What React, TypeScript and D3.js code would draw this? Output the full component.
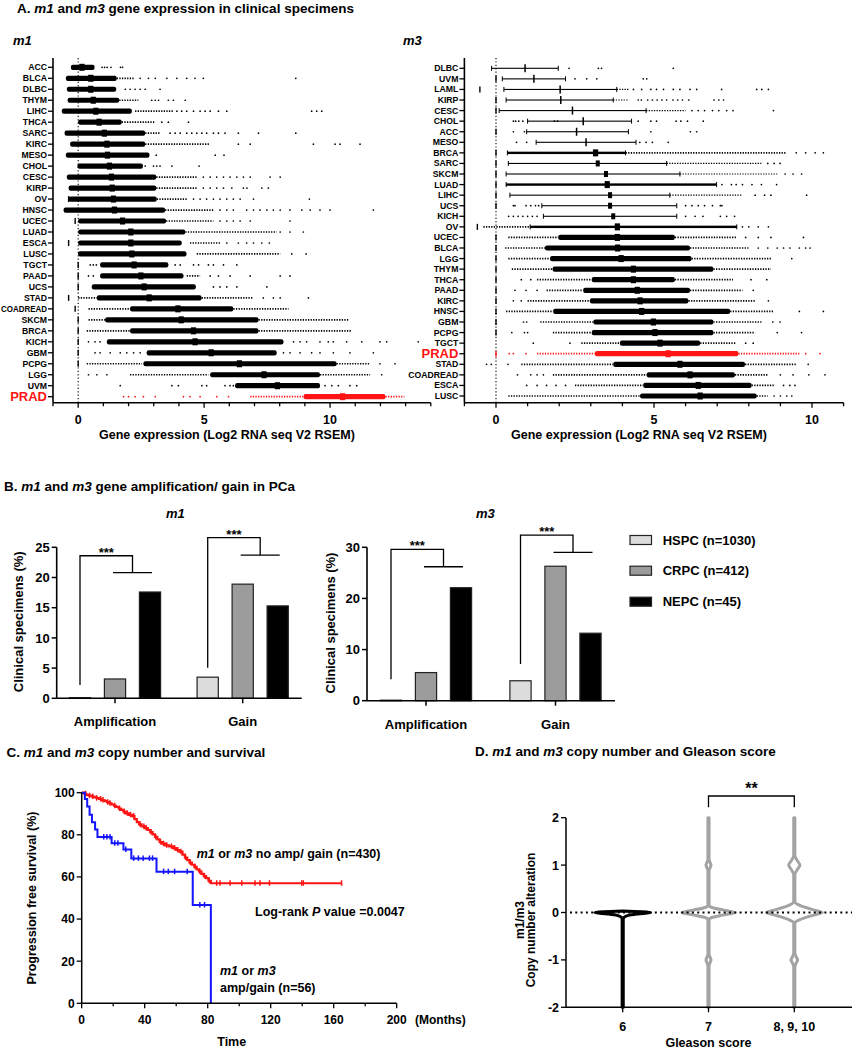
import React from "react";
import * as d3 from "d3";

const FONT = "'Liberation Sans', Arial, Helvetica, sans-serif";
const RED = "#ff1414";
const BLUE = "#1414ff";

// ---------------- Panel A data (values in Log2 RSEM) ----------------
const m1Data = [
  { n: "ACC", dots: [0.95, 1.05, 1.15, 1.3, 1.68, 1.76], band: [-0.29, 0.65], med: 0.15 },
  { n: "BLCA", dots: [2.46, 2.79, 3.06, 3.52, 3.92, 4.31, 4.64, 4.97, 8.64], band: [-0.49, 1.53], med: 0.5, hi: [1.53, 2.2] },
  { n: "DLBC", dots: [1.87, 2.06, 2.26, 2.46, 2.66, 3.25], band: [-0.45, 1.51], med: 0.5 },
  { n: "THYM", dots: [2.92, 3.06, 3.19, 3.58, 3.78, 4.25], band: [-0.42, 1.63], med: 0.6, hi: [1.63, 2.39] },
  { n: "LIHC", dots: [3.92, 4.11, 4.31, 4.58, 4.84, 5.04, 5.24, 5.57, 5.9, 9.27, 9.47, 9.67], band: [-0.65, 2.13], med: 0.7, hi: [2.26, 3.78] },
  { n: "THCA", dots: [3.32, 3.58, 4.38], band: [0, 1.73], med: 0.83, hi: [1.73, 3.06] },
  { n: "SARC", dots: [3.65, 3.85, 4.05, 4.31, 4.51, 4.71, 4.91, 5.1, 5.37, 5.57, 5.83, 6.36, 7.16, 8.64], band: [-0.54, 2.66], med: 1.04, hi: [2.66, 3.25] },
  { n: "KIRC", dots: [6.36, 6.83, 9.34, 10.2, 10.4, 11.19], band: [-0.32, 2.66], med: 1.14, hi: [2.66, 5.24] },
  { n: "MESO", dots: [3.1, 5.44, 5.79], band: [-0.49, 2.83], med: 1.16 },
  { n: "CHOL", dots: [2.66, 2.99, 3.12, 3.25, 3.72, 4.8], band: [-0.03, 2.57], med: 1.24 },
  { n: "CESC", dots: [4.97, 5.24, 5.5, 5.77, 6.03, 6.3, 6.56, 6.83, 7.62, 8.02], band: [-0.45, 3.1], med: 1.32, hi: [3.1, 4.7] },
  { n: "KIRP", dots: [4.97, 5.24, 5.5, 5.77, 6.1, 6.56, 6.7, 7.29, 7.55], band: [-0.38, 3.1], med: 1.35, hi: [3.1, 4.7] },
  { n: "OV", tick: -0.38, dots: [4.58, 4.84, 5.1, 5.37, 5.63, 5.9, 6.16, 6.43, 6.96, 9.18], band: [-0.38, 3.12], med: 1.4, hi: [3.12, 4.31] },
  { n: "HNSC", dots: [5.63, 5.9, 6.16, 6.69, 6.96, 7.22, 7.49, 7.75, 8.02, 8.41, 8.88, 9.21, 9.6, 10.0, 11.72], band: [-0.58, 3.45], med: 1.44, hi: [3.45, 5.37] },
  { n: "UCEC", tick: -0.12, dots: [5.63, 5.9, 6.16, 6.43, 6.83, 8.41], band: [0, 3.49], med: 1.76, hi: [3.49, 5.37] },
  { n: "LUAD", dots: [8.02, 8.41, 8.94], band: [0, 4.25], med: 2.09, hi: [4.25, 7.88] },
  { n: "ESCA", tick: -0.38, dots: [5.9, 6.36, 6.69, 6.96, 7.29, 7.59], band: [0, 4.11], med: 2.09, hi: [4.44, 5.63] },
  { n: "LUSC", dots: [8.48, 9.05], band: [0, 4.3], med: 2.13, hi: [4.71, 8.02] },
  { n: "TGCT", tick: 0, dots: [0.48, 0.6, 0.72, 3.85, 4.05, 4.58, 4.78, 5.17, 5.37, 5.77, 6.3], band: [0.87, 3.58], med: 2.22 },
  { n: "PAAD", tick: 0, dots: [0.41, 0.6, 5.24, 5.57, 6.03, 6.83, 8.02, 8.41], band: [0.87, 4.18], med: 2.49, hi: [4.31, 4.84] },
  { n: "UCS", tick: 0, dots: [5.37, 5.63, 5.9, 6.3, 7.49], band: [0.54, 4.67], med: 2.62 },
  { n: "STAD", tick: -0.38, dots: [7.35, 7.75, 8.02, 9.14], band: [0.74, 4.9], med: 2.82, lo: [0, 0.74], hi: [4.9, 6.96] },
  { n: "COADREAD", tick: -0.12, dots: [], band: [2.06, 6.16], med: 3.96, lo: [0.41, 2.06], hi: [6.16, 8.35] },
  { n: "SKCM", tick: 0, dots: [], band: [1.07, 7.16], med: 4.09, lo: [0.41, 1.07], hi: [7.16, 10.73] },
  { n: "BRCA", tick: 0, dots: [], band: [2.06, 7.16], med: 4.58, lo: [0.34, 2.06], hi: [7.16, 10.86] },
  { n: "KICH", tick: 0, dots: [0.41, 0.67, 0.87, 8.55, 8.81, 9.07, 9.6, 9.93, 10.13, 10.66, 11.26, 11.98, 12.25, 13.5], band: [1.14, 8.15], med: 4.64 },
  { n: "GBM", tick: 0, dots: [0.67, 0.87, 1.27, 1.67, 1.93, 2.2, 2.46, 8.15, 8.41, 8.81, 9.27, 9.6, 10.13, 10.79, 11.72], band: [2.72, 7.88], med: 5.28 },
  { n: "PCPG", tick: 0, dots: [11.98, 12.58], band: [2.59, 10.26], med: 6.4, lo: [0.34, 2.53], hi: [10.26, 11.59] },
  { n: "LGG", dots: [0.41, 0.74, 1.14, 12.05], band: [5.24, 9.6], med: 7.38, lo: [2.06, 5.17], hi: [9.6, 11.59] },
  { n: "UVM", dots: [1.67, 3.72, 3.98, 4.91, 5.1, 5.83, 6.03, 6.16, 9.8, 10.07, 10.33, 10.79, 11.06], band: [6.23, 9.6], med: 7.91 },
  { n: "PRAD", dots: [1.8, 2.0, 2.26, 2.59, 3.06, 4.18, 4.44, 4.84, 5.5, 5.97], band: [8.95, 12.2], med: 10.5, lo: [6.83, 8.94], hi: [12.2, 12.95] },
];

const m3Data = [
  { n: "DLBC", kind: "thin", dots: [2.31, 3.24, 3.34, 5.61], band: [-0.14, 1.97], med: 0.92 },
  { n: "UVM", kind: "thin", tick: 0, dots: [2.5, 2.87, 3.19, 4.66, 4.77], band: [0.2, 2.2], med: 1.2 },
  { n: "LAML", kind: "thin", tick: -0.51, dots: [4.35, 4.61, 4.9, 5.08, 5.3, 5.61, 5.82, 6.14, 6.35, 7.14, 8.25, 8.41, 8.62], band: [0.25, 3.82], med: 2.03, hi: [3.82, 4.2] },
  { n: "KIRP", kind: "thin", tick: 0, dots: [4.5, 4.6, 4.8, 4.95, 5.1, 5.25, 5.4, 5.6, 5.75, 5.9, 6.1, 6.9, 7.05, 7.2], band: [0.32, 3.71], med: 2.05, hi: [3.71, 4.2] },
  { n: "CESC", kind: "thin", tick: 0, dots: [6.2, 6.4, 6.6, 6.85, 7.05, 7.3, 7.5, 8.78], band: [0.1, 4.75], med: 2.42, hi: [4.75, 6.0] },
  { n: "CHOL", kind: "thin", dots: [0.55, 0.62, 0.72, 0.85, 1.85, 1.95, 4.5, 4.9, 5.08, 5.7, 5.85, 6.06, 6.56], band: [1.0, 4.29], med: 2.76 },
  { n: "ACC", kind: "thin", tick: 0, dots: [0.55, 0.9, 4.9, 6.15, 6.35], band: [0.97, 4.19], med: 2.55 },
  { n: "MESO", kind: "thin", dots: [0.65, 0.97, 4.55, 4.75, 4.95, 5.45], band: [1.27, 4.43], med: 2.85 },
  { n: "BRCA", kind: "mid", tick: 0, dots: [9.5, 9.8, 10.1, 10.36], band: [0.36, 4.1], med: 3.15, hi: [4.1, 9.2] },
  { n: "SARC", kind: "thinsq", tick: 0, dots: [8.6, 8.8, 8.99], band: [0.39, 5.4], med: 3.22, hi: [5.4, 8.4] },
  { n: "SKCM", kind: "thinsq", tick: 0, dots: [9.15, 9.4, 9.67], band: [0.32, 5.82], med: 3.48, hi: [5.82, 8.9] },
  { n: "LUAD", kind: "mid", tick: 0, dots: [7.15, 7.45, 7.6, 7.8, 8.1, 8.4, 8.88], band: [0.32, 6.98], med: 3.52 },
  { n: "LIHC", kind: "thinsq", tick: 0, dots: [8.2, 8.5, 8.7, 9.83], band: [0.44, 5.5], med: 3.61, hi: [5.5, 7.8] },
  { n: "UCS", kind: "thinsq", tick: 0, dots: [0.55, 0.6, 0.95, 1.1, 1.25, 1.35, 6.0, 6.2, 6.4, 6.6, 6.85, 7.1, 7.15], band: [1.45, 5.72], med: 3.61 },
  { n: "KICH", kind: "thinsq", dots: [0.4, 0.55, 0.7, 0.85, 1.0, 1.15, 1.3, 6.0, 6.3, 6.55, 7.1, 7.3, 7.55], band: [1.5, 5.72], med: 3.71 },
  { n: "OV", kind: "mid", tick: -0.59, dots: [7.8, 8.0, 8.3, 8.62], band: [1.08, 7.62], med: 3.84, lo: [-0.4, 1.08] },
  { n: "UCEC", kind: "thick", tick: 0, dots: [7.9, 8.3, 8.7, 9.73], band: [1.97, 5.66], med: 3.84, lo: [0.39, 1.97], hi: [5.66, 7.6] },
  { n: "BLCA", kind: "thick", tick: 0, dots: [8.3, 8.6, 8.9, 9.1, 9.3, 9.6, 9.8, 9.94], band: [1.55, 6.14], med: 3.85, lo: [0.29, 1.55], hi: [6.14, 8.0] },
  { n: "LGG", kind: "thick", tick: 0, dots: [9.36], band: [1.71, 6.19], med: 3.96, lo: [0.39, 1.71], hi: [6.19, 8.7] },
  { n: "THYM", kind: "thick", tick: 0, dots: [], band: [1.79, 6.88], med: 4.35, lo: [0.5, 1.79], hi: [6.88, 8.7] },
  { n: "THCA", kind: "thick", tick: 0, dots: [0.8, 1.1, 8.07, 8.57], band: [3.03, 5.66], med: 4.35, lo: [1.3, 3.03], hi: [5.66, 7.5] },
  { n: "PAAD", kind: "thick", tick: 0, dots: [0.6, 0.95, 1.3, 8.14], band: [2.76, 6.14], med: 4.47, lo: [1.6, 2.76], hi: [6.14, 7.8] },
  { n: "KIRC", kind: "thick", tick: 0, dots: [0.55, 0.8, 8.62], band: [2.97, 6.09], med: 4.56, lo: [1.0, 2.97], hi: [6.09, 8.2] },
  { n: "HNSC", kind: "thick", tick: 0, dots: [9.6, 10.36], band: [1.81, 7.41], med: 4.61, lo: [0.32, 1.81], hi: [7.41, 8.8] },
  { n: "GBM", kind: "thick", tick: 0, dots: [0.87, 0.97, 8.76, 8.99], band: [3.08, 6.88], med: 4.98, lo: [1.4, 3.08], hi: [6.88, 8.4] },
  { n: "PCPG", kind: "thick", tick: 0, dots: [0.5, 0.9, 1.0, 8.9, 9.67], band: [3.03, 6.88], med: 5.03, lo: [1.8, 3.03], hi: [6.88, 8.2] },
  { n: "TGCT", kind: "thick", dots: [1.18, 2.34, 7.9, 8.14], band: [3.92, 6.46], med: 5.19, lo: [2.7, 3.92], hi: [6.46, 7.6] },
  { n: "PRAD", kind: "thick", tick: 0, dots: [0.42, 0.55, 0.95, 9.8, 10.25], band: [3.13, 7.67], med: 5.45, lo: [1.3, 3.13], hi: [7.67, 9.6] },
  { n: "STAD", kind: "thick", dots: [-0.3, -0.15, 0.38, 9.88], band: [3.71, 7.88], med: 5.82, lo: [0.8, 3.71], hi: [7.88, 9.5] },
  { n: "COADREAD", kind: "thick", dots: [0.68, 1.1, 1.3, 1.5, 9.0, 9.4, 9.9, 10.41], band: [4.77, 7.56], med: 6.14, lo: [1.8, 4.77], hi: [7.56, 8.6] },
  { n: "ESCA", kind: "thick", dots: [0.97, 1.3, 1.6, 1.9, 2.2, 9.1, 9.3, 9.46], band: [4.66, 8.09], med: 6.4, lo: [2.5, 4.66], hi: [8.09, 8.8] },
  { n: "LUSC", kind: "thick", dots: [8.8, 9.0, 9.2, 9.36], band: [4.56, 8.25], med: 6.46, lo: [0.39, 4.56], hi: [8.25, 8.6] },
];

// ---------------- Panel B data (% of clinical specimens) ----------------
const bGroups = ["Amplification", "Gain"];
const bSeries = ["HSPC (n=1030)", "CRPC (n=412)", "NEPC (n=45)"];
const bColors = ["#dcdcdc", "#9c9c9c", "#000000"];
const m1Amp = [0.1, 3.2, 17.6];
const m1Gain = [3.5, 18.9, 15.3];
const m3Amp = [0.1, 5.5, 22.1];
const m3Gain = [3.9, 26.3, 13.2];
const m1Yticks = [0, 5, 10, 15, 20, 25];
const m3Yticks = [0, 10, 20, 30];
// bracket levels: [start, top, drop]
const m1Brackets = [[2.2, 23.6, 20.8], [5.07, 26.6, 23.7]];
const m3Brackets = [[4.2, 29.6, 26.2], [7.2, 32.4, 29.0]];

// ---------------- Panel C data (Kaplan-Meier) ----------------
const noAmpTimes = [0, 1.5, 3, 4.5, 6.5, 8, 9.5, 11, 12.5, 14.5, 16, 17.5, 19, 20.5, 22, 23.5, 25, 26.5, 28, 30, 32, 33.5, 35, 36.5, 38, 40, 42, 43.5, 45, 46.5, 48, 49.5, 51, 53, 55.5, 58, 60, 62, 64, 65.5, 67, 68.5, 70, 71.5, 73, 74.5, 76, 77.5, 79, 80.5, 82, 165];
const noAmpSurv = [100, 99.5, 99, 98.6, 98.2, 97.8, 97.4, 97, 96.5, 96, 95.5, 95, 94.4, 93.8, 93.2, 92.5, 91.8, 91, 90.2, 89.5, 88.9, 87.5, 86, 85, 84, 83.2, 82.3, 81.3, 80.2, 79, 77.8, 76.6, 75.8, 75, 74.5, 73.7, 72.8, 72, 70.6, 69.2, 68, 66.8, 65.8, 64.8, 63.6, 62.6, 61.5, 60.4, 59.4, 58.2, 57, 57];
const noAmpCensor = [2.5, 5, 7, 9.5, 12, 13.5, 16.5, 18, 21, 24, 27, 29, 31, 33, 37, 39.5, 41, 44, 47, 50, 52, 54, 57, 59, 61, 63, 66, 69, 72, 75, 78, 81, 85.7, 87.8, 94.2, 101.6, 110, 113.2, 119.2, 139.7, 140.7, 165];
const ampTimes = [0, 2, 3.5, 5, 6.5, 8.5, 10, 19, 26.5, 31.5, 47.5, 70.5, 82];
const ampSurv = [100, 97, 93.5, 89.5, 86, 82.5, 79, 76, 73, 68.8, 62.5, 46.7, 0];
const ampCensor = [14, 16, 18, 21, 23, 28, 33, 36, 39, 43, 45, 52, 55, 59, 67, 75, 78];
const cXticks = [0, 40, 80, 120, 160, 200];
const cYticks = [0, 20, 40, 60, 80, 100];

// ---------------- Panel D data (violins) ----------------
const dGroups = ["6", "7", "8, 9, 10"];
const dColors = ["#000000", "#a3a3a3", "#a3a3a3"];
// [copy number value, relative density]
const violin6 = [[0.03, 0], [0.0, 1], [-0.03, 0.55], [-0.06, 0.2], [-0.1, 0.05], [-0.14, 0.02], [-2, 0.02]];
const violin7 = [[2, 0.02], [1.12, 0.02], [1.05, 0.06], [1.0, 0.09], [0.95, 0.06], [0.88, 0.02], [0.15, 0.02], [0.1, 0.15], [0.05, 0.55], [0, 0.95], [-0.05, 0.55], [-0.1, 0.15], [-0.15, 0.02], [-0.88, 0.02], [-0.95, 0.06], [-1.0, 0.09], [-1.05, 0.06], [-1.12, 0.02], [-2, 0.02]];
const violin8 = [[2, 0.02], [1.2, 0.02], [1.1, 0.1], [1.0, 0.2], [0.9, 0.1], [0.8, 0.02], [0.22, 0.02], [0.15, 0.2], [0.05, 0.72], [0, 1], [-0.05, 0.72], [-0.15, 0.2], [-0.22, 0.02], [-0.85, 0.02], [-0.95, 0.08], [-1.0, 0.12], [-1.05, 0.08], [-1.15, 0.02], [-2, 0.02]];
const dYticks = [-2, -1, 0, 1, 2];

// ======================================================================
function DotPlot({ rows, x, yTop, yBottom, axisTop, axisY }: any) {
  const y = d3.scalePoint<string>().domain(rows.map((r: any) => r.n)).range([yTop, yBottom]);
  const [x0, x1] = x.range();
  const minor = x.ticks(15);
  const major = x.ticks(3);
  return (
    <g>
      <line x1={x(0)} x2={x(0)} y1={axisTop} y2={axisY} stroke="#000" strokeWidth={1.1} strokeDasharray="1.2 2.2" />
      {rows.map((r: any) => {
        const cy = y(r.n)!;
        const isP = r.n === "PRAD";
        const col = isP ? RED : "#000";
        const kind = r.kind || "thick";
        const thin = kind === "thin" || kind === "thinsq";
        const bh = kind === "thick" ? 5.2 : kind === "mid" ? 2.4 : 1.1;
        const bx0 = x(r.band[0]);
        const bx1 = x(r.band[1]);
        const squeeze = r.n.length > 6 && x0 - 6 < 50;
        return (
          <g key={r.n}>
            <line x1={x0 - 5} x2={x0} y1={cy} y2={cy} stroke="#000" strokeWidth={1.3} />
            <text x={x0 - 6} y={cy} dy={isP ? "0.36em" : "0.35em"} textAnchor="end" fontSize={isP ? 13 : 8.7}
              fontWeight="bold" fill={col}
              {...(squeeze ? { textLength: x0 - 7, lengthAdjust: "spacingAndGlyphs" } : {})}>{r.n}</text>
            {r.tick != null && (
              <line x1={x(r.tick)} x2={x(r.tick)} y1={cy - 3} y2={cy + 3} stroke={col} strokeWidth={1.4} />
            )}
            {r.lo && (
              <line x1={x(r.lo[0])} x2={x(r.lo[1])} y1={cy} y2={cy} stroke={col} strokeWidth={thin ? 1.2 : 1.7} strokeDasharray="1.3 1.3" />
            )}
            {r.hi && (
              <line x1={x(r.hi[0])} x2={x(r.hi[1])} y1={cy} y2={cy} stroke={col} strokeWidth={thin ? 1.2 : 1.7} strokeDasharray="1.3 1.3" />
            )}
            <rect x={bx0} width={bx1 - bx0} y={cy - bh / 2} height={bh} rx={kind === "thick" ? 2 : 0} fill={col} />
            {kind !== "thick" && (
              <g stroke={col} strokeWidth={1}>
                <line x1={bx0} x2={bx0} y1={cy - 2.5} y2={cy + 2.5} />
                <line x1={bx1} x2={bx1} y1={cy - 2.5} y2={cy + 2.5} />
              </g>
            )}
            {kind === "thin" ? (
              <line x1={x(r.med)} x2={x(r.med)} y1={cy - 4} y2={cy + 4} stroke={col} strokeWidth={1.5} />
            ) : kind === "thinsq" ? (
              <rect x={x(r.med) - 2} y={cy - 3} width={4} height={6} fill={col} />
            ) : (
              <rect x={x(r.med) - 2.6} y={cy - 3.5} width={5.2} height={7} fill={col} />
            )}
            {r.dots.map((d: number, i: number) => (
              <circle key={i} cx={x(d)} cy={cy} r={0.85} fill={col} />
            ))}
          </g>
        );
      })}
      {/* axes */}
      <line x1={x0} x2={x0} y1={axisTop} y2={axisY} stroke="#000" strokeWidth={1.6} />
      <line x1={x0} x2={x1} y1={axisY} y2={axisY} stroke="#000" strokeWidth={1.6} />
      {minor.map((t: number) => (
        <line key={"m" + t} x1={x(t)} x2={x(t)} y1={axisY} y2={axisY + (major.includes(t) ? 5 : 3.5)} stroke="#000" strokeWidth={1.3} />
      ))}
      {major.map((t: number) => (
        <text key={"t" + t} x={x(t)} y={axisY + 21} textAnchor="middle" fontSize={12.5} fontWeight="bold">{t}</text>
      ))}
      <text x={(x0 + x1) / 2 - 15} y={axisY + 36} textAnchor="middle" fontSize={12.5} fontWeight="bold">
        Gene expression (Log2 RNA seq V2 RSEM)
      </text>
    </g>
  );
}

function BarPanel({ amp, gain, yMax, yTicks, brackets, title, xRange, groupPos, yRange, titleX, labelX }: any) {
  const y = d3.scaleLinear().domain([0, yMax]).range(yRange);
  const gx = d3.scalePoint<string>().domain(bGroups).range(groupPos);
  const bx = d3.scaleBand<string>().domain(bSeries).range([-52.5, 52.5]).paddingInner(0.394).paddingOuter(0.197);
  const vals = [amp, gain];
  const [ax0, ax1] = xRange;
  const y0 = y(0);
  const center = (g: string, s: string) => gx(g)! + bx(s)! + bx.bandwidth() / 2;
  return (
    <g>
      <text x={titleX} y={yRange[1] - 29} fontSize={13} fontWeight="bold" fontStyle="italic">{title}</text>
      {bGroups.map((g, gi) =>
        bSeries.map((s, si) => (
          <rect key={g + s} x={gx(g)! + bx(s)!} width={bx.bandwidth()} y={y(vals[gi][si])}
            height={y0 - y(vals[gi][si])} fill={bColors[si]} stroke="#222" strokeWidth={1.2} />
        ))
      )}
      {bGroups.map((g, gi) => {
        const [b0, b1, b2] = brackets[gi];
        const lx = center(g, bSeries[0]);
        const cx1 = center(g, bSeries[1]);
        const cx2 = center(g, bSeries[2]);
        const rx = (cx1 + cx2) / 2;
        return (
          <g key={"br" + g} fill="none" stroke="#000" strokeWidth={1.3}>
            <path d={`M${lx},${y(b0)}V${y(b1)}H${rx}V${y(b2)}`} />
            <line x1={cx1 - 2} x2={cx2 + 2} y1={y(b2)} y2={y(b2)} />
            <text x={(lx + rx) / 2} y={y(b1) + 1} textAnchor="middle" fontSize={13} fontWeight="bold" stroke="none" fill="#000">***</text>
          </g>
        );
      })}
      <line x1={ax0} x2={ax0} y1={yRange[1]} y2={y0} stroke="#000" strokeWidth={1.6} />
      <line x1={ax0} x2={ax1} y1={y0} y2={y0} stroke="#000" strokeWidth={1.6} />
      {yTicks.map((t: number) => (
        <g key={t}>
          <line x1={ax0 - 5} x2={ax0} y1={y(t)} y2={y(t)} stroke="#000" strokeWidth={1.5} />
          <text x={ax0 - 7} y={y(t)} dy="0.36em" textAnchor="end" fontSize={13} fontWeight="bold">{t}</text>
        </g>
      ))}
      {bGroups.map((g) => (
        <g key={"x" + g}>
          <line x1={gx(g)} x2={gx(g)} y1={y0} y2={y0 + 5} stroke="#000" strokeWidth={1.5} />
          <text x={gx(g)} y={y0 + 28} textAnchor="middle" fontSize={13} fontWeight="bold">{g}</text>
        </g>
      ))}
      <text transform={`translate(${labelX},${(yRange[0] + yRange[1]) / 2 - 1}) rotate(-90)`} textAnchor="middle"
        fontSize={13} fontWeight="bold">Clinical specimens (%)</text>
    </g>
  );
}

function stepAt(times: number[], surv: number[], t: number) {
  let s = surv[0];
  for (let i = 0; i < times.length; i++) if (times[i] <= t) s = surv[i];
  return s;
}

function KMPanel() {
  const x = d3.scaleLinear().domain([0, 200]).range([81.7, 396.7]);
  const y = d3.scaleLinear().domain([0, 100]).range([1003.3, 792.7]);
  const line = d3.line<[number, number]>().x((d) => x(d[0])).y((d) => y(d[1])).curve(d3.curveStepAfter);
  const red = noAmpTimes.map((t, i) => [t, noAmpSurv[i]] as [number, number]);
  const blue = ampTimes.map((t, i) => [t, ampSurv[i]] as [number, number]);
  const minorX = d3.range(0, 201, 20);
  return (
    <g>
      <path d={line(red)!} fill="none" stroke={RED} strokeWidth={2.2} />
      {noAmpCensor.map((t, i) => {
        const s = stepAt(noAmpTimes, noAmpSurv, t);
        return <line key={i} x1={x(t)} x2={x(t)} y1={y(s) - 3} y2={y(s) + 2.5} stroke={RED} strokeWidth={1.5} />;
      })}
      <path d={line(blue)!} fill="none" stroke={BLUE} strokeWidth={2} />
      {ampCensor.map((t, i) => {
        const s = stepAt(ampTimes, ampSurv, t);
        return <line key={i} x1={x(t)} x2={x(t)} y1={y(s) - 3} y2={y(s) + 2.5} stroke={BLUE} strokeWidth={1.5} />;
      })}
      <line x1={x(0)} x2={x(0)} y1={y(100)} y2={y(0)} stroke="#000" strokeWidth={1.5} />
      <line x1={x(0)} x2={x(200)} y1={y(0)} y2={y(0)} stroke="#000" strokeWidth={1.5} />
      {minorX.map((t) => (
        <line key={t} x1={x(t)} x2={x(t)} y1={y(0)} y2={y(0) + (cXticks.includes(t) ? 5 : 3)} stroke="#000" strokeWidth={1.3} />
      ))}
      {cXticks.map((t) => (
        <text key={t} x={x(t)} y={y(0) + 20.5} textAnchor="middle" fontSize={12} fontWeight="bold">{t}</text>
      ))}
      {cYticks.map((t) => (
        <g key={t}>
          <line x1={x(0) - 5} x2={x(0)} y1={y(t)} y2={y(t)} stroke="#000" strokeWidth={1.3} />
          <text x={x(0) - 7} y={y(t)} dy="0.36em" textAnchor="end" fontSize={12} fontWeight="bold">{t}</text>
        </g>
      ))}
      <text x={415} y={y(0) + 20.5} fontSize={12} fontWeight="bold">(Months)</text>
      <text x={231.7} y={1046} textAnchor="middle" fontSize={12.5} fontWeight="bold">Time</text>
      <text transform={`translate(35.5,898) rotate(-90)`} textAnchor="middle" fontSize={12.5} fontWeight="bold">
        Progression free survival (%)
      </text>
      <text x={196.7} y={857.5} fontSize={12.5} fontWeight="bold">
        <tspan fontStyle="italic">m1</tspan> or <tspan fontStyle="italic">m3</tspan> no amp/ gain (n=430)
      </text>
      <text x={255} y={915.8} fontSize={12.5} fontWeight="bold">
        Log-rank <tspan fontStyle="italic">P</tspan> value =0.0047
      </text>
      <text x={220} y={974.5} fontSize={12.5} fontWeight="bold">
        <tspan fontStyle="italic">m1</tspan> or <tspan fontStyle="italic">m3</tspan>
      </text>
      <text x={220} y={992} fontSize={12.5} fontWeight="bold">amp/gain (n=56)</text>
    </g>
  );
}

function ViolinPanel() {
  const y = d3.scaleLinear().domain([-2, 2]).range([1007.3, 817.7]);
  const gx = d3.scalePoint<string>().domain(dGroups).range([622.7, 794.3]);
  const w = d3.scaleLinear().domain([0, 1]).range([0, 28]);
  const profiles = [violin6, violin7, violin8];
  const x0 = 566;
  return (
    <g>
      {dGroups.map((g, i) => {
        const cx = gx(g)!;
        const area = d3.area<number[]>()
          .y((d) => y(d[0]))
          .x0((d) => cx - w(d[1]))
          .x1((d) => cx + w(d[1]))
          .curve(d3.curveMonotoneY);
        const data = profiles[i].slice().sort((a, b) => b[0] - a[0]);
        return (
          <path key={g} d={area(data)!} fill="#fff" stroke={dColors[i]} strokeWidth={3} strokeLinejoin="round" />
        );
      })}
      <line x1={570} x2={852} y1={y(0)} y2={y(0)} stroke="#000" strokeWidth={2.2} strokeDasharray="2 3.3" />
      <line x1={x0} x2={x0} y1={y(2)} y2={y(-2)} stroke="#000" strokeWidth={1.5} />
      <line x1={x0} x2={852} y1={y(-2)} y2={y(-2)} stroke="#000" strokeWidth={1.5} />
      {dYticks.map((t) => (
        <g key={t}>
          <line x1={x0 - 5} x2={x0} y1={y(t)} y2={y(t)} stroke="#000" strokeWidth={1.3} />
          <text x={x0 - 7} y={y(t)} dy="0.36em" textAnchor="end" fontSize={12.5} fontWeight="bold">{t}</text>
        </g>
      ))}
      {dGroups.map((g) => (
        <g key={"x" + g}>
          <line x1={gx(g)} x2={gx(g)} y1={y(-2)} y2={y(-2) + 5} stroke="#000" strokeWidth={1.3} />
          <text x={gx(g)} y={y(-2) + 23.5} textAnchor="middle" fontSize={12.5} fontWeight="bold">{g}</text>
        </g>
      ))}
      <text x={gx("7")} y={1046.5} textAnchor="middle" fontSize={12.5} fontWeight="bold">Gleason score</text>
      <text transform={`translate(523.5,920) rotate(-90)`} textAnchor="middle" fontSize={12} fontWeight="bold">m1/m3</text>
      <text transform={`translate(535,920) rotate(-90)`} textAnchor="middle" fontSize={12} fontWeight="bold">Copy number alteration</text>
      <path d={`M${gx("7")},${807.3}V796H${gx("8, 9, 10")}V807.3`} fill="none" stroke="#000" strokeWidth={1.3} />
      <text x={(gx("7")! + gx("8, 9, 10")!) / 2} y={794} textAnchor="middle" fontSize={16} fontWeight="bold">**</text>
    </g>
  );
}

export default function App() {
  const xM1 = d3.scaleLinear().domain([-1, 14]).range([53, 430.8]);
  const xM3 = d3.scaleLinear().domain([-1, 11]).range([464.4, 843.6]);
  return (
    <svg width={852} height={1050} style={{ position: "absolute", left: 0, top: 0, background: "#fff" }} fontFamily={FONT}>
      <rect width={852} height={1050} fill="#fff" />
      {/* Panel A */}
      <text x={17} y={12.5} fontSize={13.5} fontWeight="bold">
        A. <tspan fontStyle="italic">m1</tspan> and <tspan fontStyle="italic">m3</tspan> gene expression in clinical specimens
      </text>
      <text x={13} y={45} fontSize={13} fontWeight="bold" fontStyle="italic">m1</text>
      <text x={403} y={45} fontSize={13} fontWeight="bold" fontStyle="italic">m3</text>
      <DotPlot rows={m1Data} x={xM1} yTop={67.3} yBottom={396.7} axisTop={58} axisY={402.7} />
      <DotPlot rows={m3Data} x={xM3} yTop={68.3} yBottom={396} axisTop={58} axisY={402.7} />

      {/* Panel B */}
      <text x={4} y={490.7} fontSize={13.5} fontWeight="bold">
        B. <tspan fontStyle="italic">m1</tspan> and <tspan fontStyle="italic">m3</tspan> gene amplification/ gain in PCa
      </text>
      <BarPanel amp={m1Amp} gain={m1Gain} yMax={25} yTicks={m1Yticks} brackets={m1Brackets} title="m1"
        xRange={[56.7, 301.7]} groupPos={[115, 242.7]} yRange={[698.3, 547.3]} titleX={166} labelX={22.5} />
      <BarPanel amp={m3Amp} gain={m3Gain} yMax={30} yTicks={m3Yticks} brackets={m3Brackets} title="m3"
        xRange={[367, 615]} groupPos={[426, 555.5]} yRange={[700.7, 547.3]} titleX={476} labelX={335} />
      {bSeries.map((s, i) => (
        <g key={s}>
          <rect x={630} y={[540, 570.7, 601.7][i] - 4.5} width={21.5} height={9} fill={bColors[i]} stroke="#222" strokeWidth={1.2} />
          <text x={662.7} y={[540, 570.7, 601.7][i]} dy="0.36em" fontSize={13} fontWeight="bold">{s}</text>
        </g>
      ))}

      {/* Panel C */}
      <text x={6.5} y={756.7} fontSize={13.5} fontWeight="bold">
        C. <tspan fontStyle="italic">m1</tspan> and <tspan fontStyle="italic">m3</tspan> copy number and survival
      </text>
      <KMPanel />

      {/* Panel D */}
      <text x={475} y={755.7} fontSize={13.5} fontWeight="bold">
        D. <tspan fontStyle="italic">m1</tspan> and <tspan fontStyle="italic">m3</tspan> copy number and Gleason score
      </text>
      <ViolinPanel />
    </svg>
  );
}
